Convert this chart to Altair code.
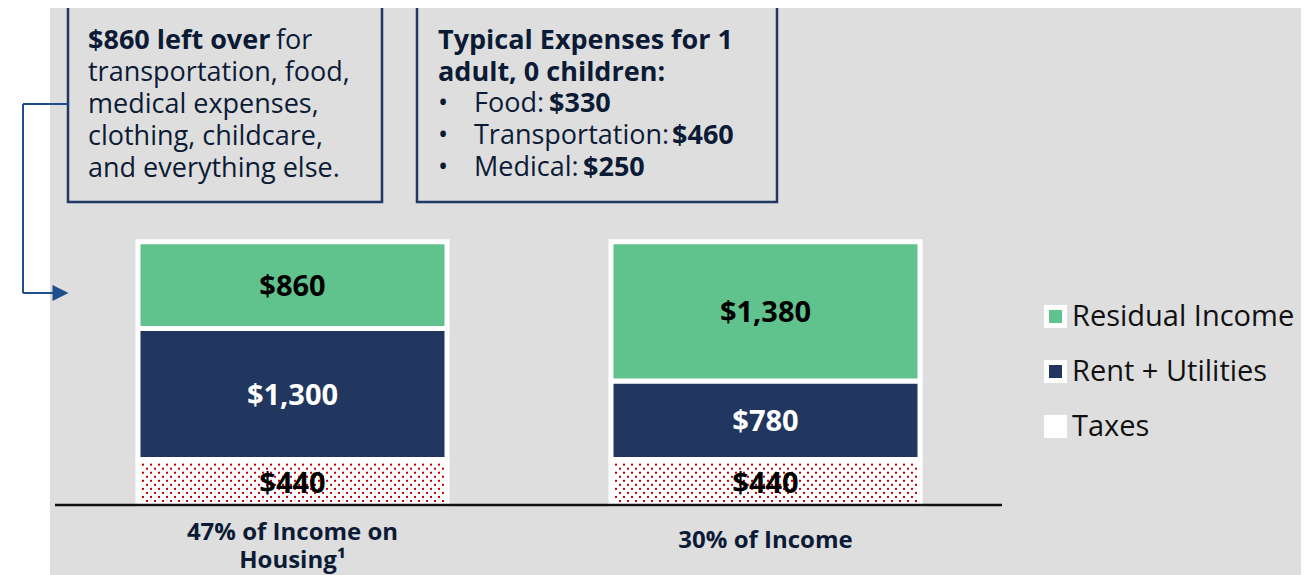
import altair as alt
import pandas as pd

# ---------------- data ----------------
categories = ["47% of Income on Housing", "30% of Income"]
category_labels = ["47% of Income on\nHousing¹", "30% of Income"]
segments = ["Taxes", "Rent + Utilities", "Residual Income"]
taxes = [440, 440]
rent_utilities = [1300, 780]
residual_income = [860, 1380]

legend_order = ["Residual Income", "Rent + Utilities", "Taxes"]
segment_colors = ["#60C38E", "#22375F", "#FFFFFF"]

box1_bold = "$860 left over"
box1_rest = "for"
box1_lines = ["transportation, food,", "medical expenses,", "clothing, childcare,", "and everything else."]
box2_title = ["Typical Expenses for 1", "adult, 0 children:"]
expense_names = ["Food: ", "Transportation: ", "Medical: "]
expense_values = ["$330", "$460", "$250"]

# ---------------- tables ----------------
rows = []
for i, c in enumerate(categories):
    for k, (seg, vals) in enumerate(zip(segments, [taxes, rent_utilities, residual_income])):
        rows.append({"category": c, "segment": seg, "value": vals[i], "order": k})
df = pd.DataFrame(rows)

# dotted texture for the Taxes segments (data units vertically, px offset horizontally)
dot_rows = []
for i, c in enumerate(categories):
    for r in range(10):
        xo = 9 if r % 2 == 0 else 5
        while xo <= 305:
            dot_rows.append({"category": c, "xo": xo, "yv": 30 + 40 * r})
            xo += 8
dots_df = pd.DataFrame(dot_rows)

cat_df = pd.DataFrame({"category": categories, "label": category_labels})
one = pd.DataFrame({"k": [0]})

W, H = 1293, 567
OX, OY = 8, 8  # page margin offset
TEXT = "#0C1B35"
BOX = "#1F3864"
ARROW = "#1F4E8C"
FONT = "Open Sans"
BW = 309

x_scale = alt.Scale(type="band", domain=categories, range=[48, 994], paddingInner=0.3467, paddingOuter=0.17335)
y_scale = alt.Scale(domain=[0, 2600], range=[496, 233.7], nice=False, zero=True)

# ---------------- layers ----------------
bg = alt.Chart(one).mark_rect(color="#DEDEDE").encode(
    x=alt.value(50 - OX), x2=alt.value(W), y=alt.value(0), y2=alt.value(H)
)


def box(x0, y0, x1, y1):
    return alt.Chart(one).mark_rect(fillOpacity=0, stroke=BOX, strokeWidth=2.5).encode(
        x=alt.value(x0 - OX), x2=alt.value(x1 - OX), y=alt.value(y0 - OY), y2=alt.value(y1 - OY)
    )


def seg(x0, y0, x1, y1):
    return alt.Chart(one).mark_rule(color=ARROW, strokeWidth=2).encode(
        x=alt.value(x0 - OX), x2=alt.value(x1 - OX), y=alt.value(y0 - OY), y2=alt.value(y1 - OY)
    )


def txt(s, x, y, size=27, bold=False, color=TEXT, align="left"):
    return alt.Chart(one).mark_text(
        text=s, font=FONT, fontSize=size, fontWeight="bold" if bold else "normal",
        align=align, baseline="alphabetic", color=color
    ).encode(x=alt.value(x - OX), y=alt.value(y - OY))


arrow_head = alt.Chart(one).mark_point(
    shape="M-1,-1L1,0L-1,1Z", filled=True, size=256, color=ARROW, opacity=1
).encode(x=alt.value(60.5 - OX), y=alt.value(293 - OY))

base = alt.Chart(df).transform_stack(
    stack="value", groupby=["category"], as_=["y0", "y1"],
    sort=[alt.SortField("order", order="ascending")]
)

x_enc = alt.X("category:N", scale=x_scale, axis=None, sort=categories)

bars = base.mark_bar(stroke="white", strokeWidth=5).encode(
    x=x_enc,
    y=alt.Y("y0:Q", scale=y_scale, axis=None),
    y2="y1:Q",
    color=alt.Color(
        "segment:N",
        scale=alt.Scale(domain=legend_order, range=segment_colors),
        legend=alt.Legend(
            title=None, orient="none", legendX=1033, legendY=294, symbolType="square",
            symbolSize=324, symbolStrokeColor="white", symbolStrokeWidth=5, symbolOpacity=1,
            labelFont=FONT, labelFontSize=29, labelColor="#111111", labelOffset=2,
            rowPadding=16, padding=0, labelLimit=400,
        ),
    ),
)

dots = alt.Chart(dots_df).mark_square(size=4, color="#C00000", opacity=1).encode(
    x=x_enc,
    xOffset=alt.XOffset("xo:Q", scale=alt.Scale(domain=[0, BW], range=[0, BW])),
    y=alt.Y("yv:Q", scale=y_scale, axis=None),
)

value_labels = base.transform_calculate(mid="(datum.y0 + datum.y1) / 2").mark_text(
    font=FONT, fontSize=29, fontWeight="bold", baseline="middle", dy=2
).encode(
    x=x_enc,
    y=alt.Y("mid:Q", scale=y_scale, axis=None),
    text=alt.Text("value:Q", format="$,.0f"),
    color=alt.condition(alt.datum.segment == "Rent + Utilities", alt.value("white"), alt.value("black")),
)

cat_left = alt.Chart(cat_df).transform_filter(alt.datum.category == categories[0]).mark_text(
    font=FONT, fontSize=24, fontWeight="bold", baseline="alphabetic", color=TEXT, lineBreak="\n", lineHeight=28
).encode(
    x=x_enc,
    y=alt.value(540 - OY),
    text="label:N",
)
cat_right = alt.Chart(cat_df).transform_filter(alt.datum.category == categories[1]).mark_text(
    font=FONT, fontSize=24, fontWeight="bold", baseline="alphabetic", color=TEXT
).encode(
    x=x_enc,
    y=alt.value(548 - OY),
    text="label:N",
)

baseline = alt.Chart(one).mark_rule(color="#111111", strokeWidth=2.5).encode(
    x=alt.value(55 - OX), x2=alt.value(1002 - OX), y=alt.value(505 - OY)
)

texts = [
    txt(box1_bold, 88, 49, bold=True),
    txt(box1_rest, 276, 49),
]
for j, line in enumerate(box1_lines):
    texts.append(txt(line, 88, 81 + 32 * j))
texts.append(txt(box2_title[0], 438, 49, bold=True))
texts.append(txt(box2_title[1], 438, 81, bold=True))
val_x = [549, 672, 583]
for j, (n, v) in enumerate(zip(expense_names, expense_values)):
    yy = 112 + 32 * j
    texts.append(txt("•", 438, yy))
    texts.append(txt(n, 474, yy))
    texts.append(txt(v, val_x[j], yy, bold=True))

chart = alt.layer(
    bg,
    box(68, 6, 382, 202),
    box(417, 6, 777, 202),
    seg(68, 104, 23, 104),
    seg(23, 104, 23, 293),
    seg(23, 293, 56, 293),
    arrow_head,
    bars,
    dots,
    value_labels,
    cat_left,
    cat_right,
    baseline,
    *texts,
).resolve_scale(xOffset="independent").properties(
    width=W, height=H, padding=0, autosize="none", background="white"
).configure_view(strokeWidth=0)

chart.save("out.html", embed_options={"renderer": "svg", "actions": False})
